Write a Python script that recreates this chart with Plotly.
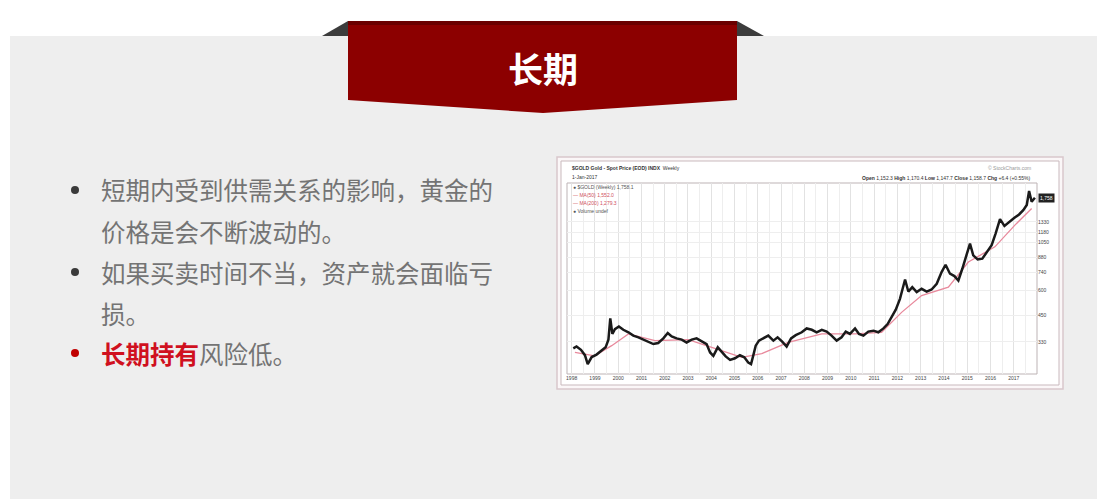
import numpy as np
import plotly.graph_objects as go

# page body has an 8px margin, so the figure starts 8px in; overflow past the window is clipped
OFF = 8
W, H = 1105, 499

# ---------------- data ----------------
years = [1998.07, 1998.21, 1998.40, 1998.57, 1998.69, 1998.86, 1999.07, 1999.29, 1999.46, 1999.58,
         1999.66, 1999.75, 1999.86, 2000.03, 2000.22, 2000.44, 2000.65, 2000.87, 2001.08, 2001.30,
         2001.51, 2001.72, 2001.94, 2002.13, 2002.30, 2002.51, 2002.73, 2002.94, 2003.16, 2003.37,
         2003.59, 2003.80, 2003.95, 2004.09, 2004.28, 2004.45, 2004.62, 2004.81, 2005.02, 2005.23,
         2005.42, 2005.59, 2005.71, 2005.81, 2005.91, 2006.05, 2006.24, 2006.45, 2006.67, 2006.85,
         2007.05, 2007.24, 2007.43, 2007.63, 2007.89, 2008.10, 2008.32, 2008.53, 2008.75, 2008.96,
         2009.17, 2009.39, 2009.60, 2009.78, 2009.96, 2010.18, 2010.35, 2010.54, 2010.75, 2010.97,
         2011.18, 2011.40, 2011.58, 2011.75, 2011.93, 2012.11, 2012.33, 2012.47, 2012.64, 2012.83,
         2013.04, 2013.26, 2013.47, 2013.69, 2013.90, 2014.07, 2014.26, 2014.45, 2014.62, 2014.79,
         2014.98, 2015.12, 2015.26, 2015.45, 2015.65, 2015.84, 2016.05, 2016.22, 2016.41, 2016.60,
         2016.80, 2017.03, 2017.23, 2017.41, 2017.56, 2017.66, 2017.77, 2017.91]
price = [306, 313, 301, 283, 255, 277, 285, 298, 310, 339,
         434, 362, 383, 395, 380, 369, 355, 348, 339, 331,
         322, 326, 344, 366, 352, 344, 339, 328, 339, 344,
         331, 322, 292, 281, 310, 292, 279, 268, 273, 283,
         276, 260, 255, 283, 316, 335, 344, 355, 335, 348,
         331, 313, 344, 357, 369, 386, 380, 369, 380, 372,
         355, 335, 348, 372, 362, 386, 362, 355, 372, 376,
         369, 386, 406, 439, 480, 544, 681, 592, 623, 588,
         611, 592, 606, 648, 742, 808, 728, 708, 673, 771,
         901, 1032, 901, 860, 867, 937, 1013, 1160, 1371, 1268,
         1329, 1392, 1447, 1522, 1614, 1900, 1678, 1758]

ma_years = [1998.14, 1998.99, 1999.72, 2000.44, 2001.58, 2003.01, 2004.02, 2005.31, 2006.17, 2007.31,
            2008.75, 2010.18, 2011.32, 2012.18, 2013.04, 2014.19, 2015.05, 2016.19, 2017.05, 2017.77]
ma_price = [292, 281, 316, 362, 335, 339, 310, 276, 288, 328,
            362, 362, 369, 465, 565, 623, 834, 994, 1279, 1552]

tick_years = list(range(1998, 2018))
tick_labels = [str(y) for y in tick_years]
price_ticks = [330, 450, 600, 740, 880, 1050, 1180, 1330]

bullets = ["短期内受到供需关系的影响，黄金的", "价格是会不断波动的。",
           "如果买卖时间不当，资产就会面临亏", "损。"]
bullet3_red = "长期持有"
bullet3_rest = "风险低。"
banner_title = "长期"


def px(x):
    return (x - OFF) / W


def py(y):
    return 1 - (y - OFF) / H


fig = go.Figure()

fig.add_trace(go.Scatter(x=ma_years, y=ma_price, mode="lines",
                         line=dict(color="#e8899c", width=1.3), hoverinfo="skip"))
fig.add_trace(go.Scatter(x=years, y=price, mode="lines",
                         line=dict(color="#1a1a1a", width=2.5), hoverinfo="skip"))

shapes = []
# slide background
shapes.append(dict(type="rect", xref="paper", yref="paper", x0=px(10), x1=1.0, y0=0.0, y1=py(36),
                   fillcolor="#eeeeee", line=dict(width=0), layer="below"))
# banner folds
shapes.append(dict(type="path", xref="paper", yref="paper",
                   path=f"M {px(322)},{py(36)} L {px(348)},{py(21)} L {px(348)},{py(36)} Z",
                   fillcolor="#3c3c3c", line=dict(width=0), layer="below"))
shapes.append(dict(type="path", xref="paper", yref="paper",
                   path=f"M {px(737)},{py(21)} L {px(764)},{py(36)} L {px(737)},{py(36)} Z",
                   fillcolor="#3c3c3c", line=dict(width=0), layer="below"))
# banner
shapes.append(dict(type="path", xref="paper", yref="paper",
                   path=(f"M {px(348)},{py(21)} L {px(737)},{py(21)} L {px(737)},{py(100)} "
                         f"L {px(543)},{py(113)} L {px(348)},{py(100)} Z"),
                   fillcolor="#8c0000", line=dict(width=0), layer="below"))
shapes.append(dict(type="rect", xref="paper", yref="paper", x0=px(348), x1=px(737), y0=py(25), y1=py(21),
                   fillcolor="#6a0000", line=dict(width=0), layer="below"))
# bullets
for yy, col in [(190, "#3a3a3a"), (272, "#3a3a3a"), (353, "#c00000")]:
    shapes.append(dict(type="circle", xref="paper", yref="paper",
                       x0=px(71), x1=px(79), y0=py(yy + 4), y1=py(yy - 4),
                       fillcolor=col, line=dict(width=0), layer="below"))
# chart picture frame
shapes.append(dict(type="rect", xref="paper", yref="paper", x0=px(557), x1=px(1063), y0=py(389), y1=py(157),
                   fillcolor="#fbf7f8", line=dict(color="#d9c7cc", width=1.5), layer="below"))
shapes.append(dict(type="rect", xref="paper", yref="paper", x0=px(561), x1=px(1059), y0=py(385), y1=py(161),
                   fillcolor="#ffffff", line=dict(color="#c9b9bd", width=1), layer="below"))
shapes.append(dict(type="rect", xref="paper", yref="paper", x0=px(567), x1=px(1037), y0=py(374), y1=py(183),
                   fillcolor="rgba(0,0,0,0)", line=dict(color="#bdb3b5", width=1), layer="below"))

annotations = []
annotations.append(dict(text=f"<b>{banner_title}</b>", xref="paper", yref="paper", x=px(543), y=py(67),
                        showarrow=False, xanchor="center", yanchor="middle",
                        font=dict(family="Noto Sans CJK SC", size=35, color="#ffffff")))
for txt, yy in zip(bullets, [190, 231, 272, 313]):
    annotations.append(dict(text=txt, xref="paper", yref="paper", x=px(99), y=py(yy),
                            showarrow=False, xanchor="left", yanchor="middle",
                            font=dict(family="Noto Sans CJK SC", size=24.5, color="#747474")))
annotations.append(dict(text=f"<b><span style='color:#d0101e'>{bullet3_red}</span></b>{bullet3_rest}",
                        xref="paper", yref="paper", x=px(99), y=py(353),
                        showarrow=False, xanchor="left", yanchor="middle",
                        font=dict(family="Noto Sans CJK SC", size=24.5, color="#747474")))

small = dict(family="Liberation Sans", size=5, color="#333333")
annotations += [
    dict(text="<b>$GOLD Gold - Spot Price (EOD) INDX</b>  Weekly", xref="paper", yref="paper",
         x=px(570), y=py(168), showarrow=False, xanchor="left", yanchor="middle", font=small),
    dict(text="© StockCharts.com", xref="paper", yref="paper",
         x=px(1033), y=py(168), showarrow=False, xanchor="right", yanchor="middle",
         font=dict(family="Liberation Sans", size=5, color="#999999")),
    dict(text="1-Jan-2017", xref="paper", yref="paper",
         x=px(570), y=py(177), showarrow=False, xanchor="left", yanchor="middle", font=small),
    dict(text="<b>Open</b> 1,152.3 <b>High</b> 1,170.4 <b>Low</b> 1,147.7 <b>Close</b> 1,158.7 <b>Chg</b> +6.4 (+0.55%)",
         xref="paper", yref="paper",
         x=px(1033), y=py(178), showarrow=False, xanchor="right", yanchor="middle", font=small),
    dict(text="● $GOLD (Weekly) 1,758.1", xref="paper", yref="paper",
         x=px(571), y=py(187), showarrow=False, xanchor="left", yanchor="middle",
         font=dict(family="Liberation Sans", size=5, color="#555555")),
    dict(text="— MA(50) 1,552.0", xref="paper", yref="paper",
         x=px(571), y=py(195), showarrow=False, xanchor="left", yanchor="middle",
         font=dict(family="Liberation Sans", size=5, color="#d05060")),
    dict(text="— MA(200) 1,279.3", xref="paper", yref="paper",
         x=px(571), y=py(203), showarrow=False, xanchor="left", yanchor="middle",
         font=dict(family="Liberation Sans", size=5, color="#d05060")),
    dict(text="● Volume undef", xref="paper", yref="paper",
         x=px(571), y=py(211), showarrow=False, xanchor="left", yanchor="middle",
         font=dict(family="Liberation Sans", size=5, color="#555555")),
    dict(text=f"{price[-1]:,}", xref="paper", yref="y", x=px(1038), y=float(np.log10(price[-1])),
         showarrow=False, xanchor="left", yanchor="middle", bgcolor="#222222",
         font=dict(family="Liberation Sans", size=5, color="#ffffff")),
]

fig.update_layout(
    width=W, height=H,
    margin=dict(l=0, r=0, t=0, b=0),
    paper_bgcolor="#ffffff",
    plot_bgcolor="rgba(0,0,0,0)",
    showlegend=False,
    shapes=shapes,
    annotations=annotations,
    xaxis=dict(domain=[px(567), px(1037)], range=[1997.8, 2018.0],
               tickmode="array", tickvals=tick_years, ticktext=tick_labels,
               showgrid=True, gridcolor="#e2e2e2", gridwidth=1,
               minor=dict(dtick=0.5, tick0=1997.5, showgrid=True, gridcolor="#eeeeee"),
               zeroline=False, showline=False, ticks="",
               tickfont=dict(family="Liberation Sans", size=5, color="#444444")),
    yaxis=dict(domain=[py(374), py(183)], type="log", range=[2.357, 3.319], side="right",
               tickmode="array", tickvals=price_ticks, ticktext=[str(v) for v in price_ticks],
               showgrid=True, gridcolor="#eeeeee", zeroline=False, showline=False, ticks="",
               tickfont=dict(family="Liberation Sans", size=5, color="#444444")),
)

fig.write_html("out.html")
